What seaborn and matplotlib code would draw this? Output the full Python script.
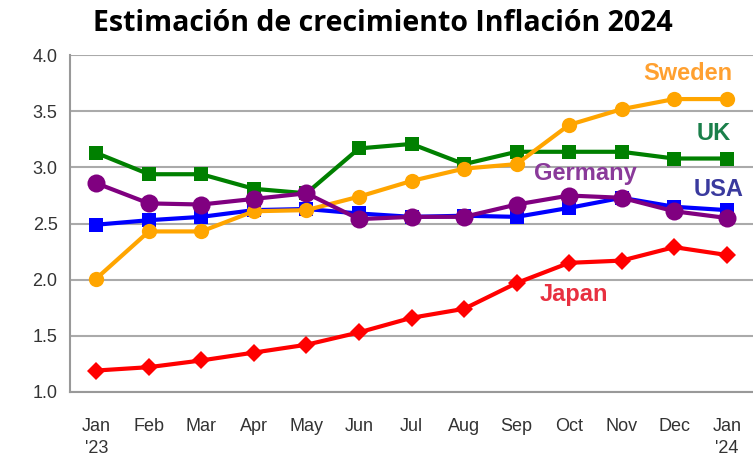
import numpy as np
import pandas as pd
import matplotlib
matplotlib.use('Agg')
import matplotlib.pyplot as plt
import seaborn as sns

# Monthly values
months = ['Jan\n\'23', 'Feb', 'Mar', 'Apr', 'May', 'Jun', 'Jul', 'Aug', 'Sep', 'Oct', 'Nov', 'Dec', 'Jan\n\'24']
usa = [2.49, 2.53, 2.56, 2.62, 2.63, 2.59, 2.56, 2.57, 2.56, 2.64, 2.73, 2.65, 2.62]
uk = [3.13, 2.94, 2.94, 2.81, 2.77, 3.17, 3.21, 3.03, 3.14, 3.14, 3.14, 3.08, 3.08]
sweden = [2.01, 2.43, 2.43, 2.61, 2.62, 2.74, 2.88, 2.99, 3.03, 3.38, 3.52, 3.61, 3.61]
germany = [2.86, 2.68, 2.67, 2.72, 2.77, 2.54, 2.56, 2.56, 2.67, 2.75, 2.73, 2.61, 2.55]
japan = [1.19, 1.22, 1.28, 1.35, 1.42, 1.53, 1.66, 1.74, 1.97, 2.15, 2.17, 2.29, 2.22]

series = [
    ('USA', usa, '#0000ff', 's', 10),
    ('UK', uk, '#008000', 's', 10),
    ('Sweden', sweden, '#ffa500', 'o', 11),
    ('Germany', germany, '#800080', 'o', 13),
    ('Japan', japan, '#ff0000', 'D', 9),
]

sns.set_style('white')
plt.rcParams['font.family'] = ['Liberation Sans', 'DejaVu Sans']

fig = plt.figure(figsize=(7.53, 4.61), dpi=100)
ax = fig.add_axes([0.093, 0.15, 0.907, 0.73])

x = np.arange(len(months))
for name, vals, color, marker, ms in series:
    df = pd.DataFrame({'x': x, 'y': vals})
    sns.lineplot(data=df, x='x', y='y', ax=ax, color=color, marker=marker,
                 markersize=ms, markeredgewidth=0, linewidth=3)

# Series labels
labels = [
    ('Sweden', 11.25, 3.84, '#ffa030'),
    ('UK', 11.75, 3.3, '#1a7f4a'),
    ('Germany', 9.3, 2.95, '#8a3a9a'),
    ('USA', 11.85, 2.8, '#3a3a9e'),
    ('Japan', 9.1, 1.87, '#e83040'),
]
for text, lx, ly, c in labels:
    ax.text(lx, ly, text, color=c, fontsize=17, fontweight='bold',
            ha='center', va='center')

ax.set_xlim(-0.5, 12.5)
ax.set_ylim(1.0, 4.0)
ax.set_yticks(np.arange(1.0, 4.01, 0.5))
ax.set_yticklabels([f'{v:.1f}' for v in np.arange(1.0, 4.01, 0.5)], fontsize=13, color='#333333')
ax.set_xticks(x)
ax.set_xticklabels(months, fontsize=13, color='#333333', ha='center', va='top', linespacing=1.4)
ax.set_xticks(np.arange(-0.5, 12.6, 1), minor=True)
ax.tick_params(axis='x', which='major', length=0, pad=19)
ax.tick_params(axis='x', which='minor', length=5, color='#999999', width=1.2, direction='out')
ax.tick_params(axis='y', length=5, color='#999999', width=1.2, direction='out', pad=4)
ax.grid(axis='y', color='#aaaaaa', linewidth=1.5)
ax.set_axisbelow(True)
for s in ['top', 'right']:
    ax.spines[s].set_visible(False)
ax.spines['left'].set_color('#999999')
ax.spines['bottom'].set_color('#999999')
ax.spines['left'].set_linewidth(1.5)
ax.spines['bottom'].set_linewidth(1.5)
ax.set_xlabel('')
ax.set_ylabel('')

fig.suptitle('Estimación de crecimiento Inflación 2024', x=0.508, y=0.98,
             fontsize=20.5, fontweight='bold', color='black',
             family=['Open Sans', 'DejaVu Sans'], va='top')

fig.savefig('out.png', dpi=100)
